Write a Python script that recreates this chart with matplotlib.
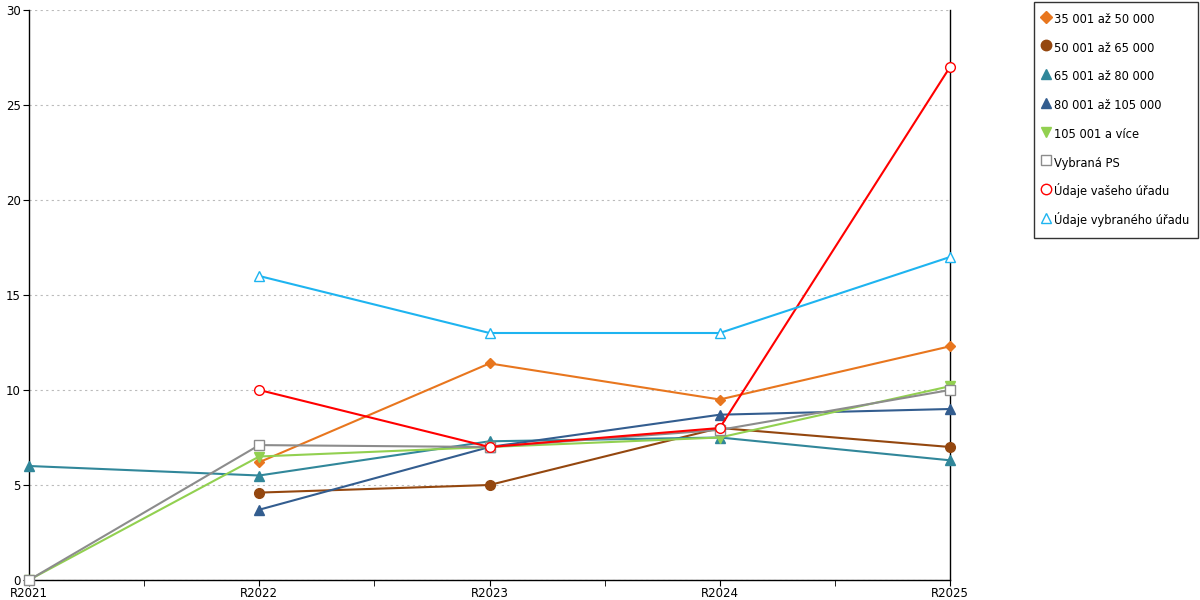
import matplotlib
matplotlib.use("Agg")
import matplotlib.pyplot as plt
from matplotlib.lines import Line2D
import numpy as np

years = ["R2021", "R2022", "R2023", "R2024", "R2025"]

s_35_50 = [None, 6.2, 11.4, 9.5, 12.3]
s_50_65 = [None, 4.6, 5.0, 8.0, 7.0]
s_65_80 = [6.0, 5.5, 7.3, 7.5, 6.3]
s_80_105 = [None, 3.7, 7.0, 8.7, 9.0]
s_105 = [0.0, 6.5, 7.0, 7.5, 10.2]
s_ps = [0.0, 7.1, 7.0, 7.9, 10.0]
s_vas = [None, 10.0, 7.0, 8.0, 27.0]
s_vybr = [None, 16.0, 13.0, 13.0, 17.0]

series = [
    ("35 001 až 50 000", s_35_50, "#E8761E", "D", True, 5.5),
    ("50 001 až 65 000", s_50_65, "#94470F", "o", True, 7),
    ("65 001 až 80 000", s_65_80, "#31879A", "^", True, 7),
    ("80 001 až 105 000", s_80_105, "#335D8F", "^", True, 7),
    ("105 001 a více", s_105, "#92D050", "v", True, 7),
    ("Vybraná PS", s_ps, "#8C8C8C", "s", False, 7),
    ("Údaje vašeho úřadu", s_vas, "#FF0000", "o", False, 7),
    ("Údaje vybraného úřadu", s_vybr, "#1EB4F0", "^", False, 7),
]

plt.rcParams["font.family"] = ["DejaVu Sans"]

fig = plt.figure(figsize=(12, 6), dpi=100)
ax = fig.add_axes([29 / 1200, 20 / 600, 921 / 1200, 570 / 600])

x = np.arange(len(years))
handles = []
for label, vals, color, marker, filled, ms in series:
    v = np.array([np.nan if a is None else a for a in vals], dtype=float)
    face = color if filled else "white"
    ax.plot(x, v, color=color, lw=1.5, marker=marker, markersize=ms,
            markerfacecolor=face, markeredgecolor=color, markeredgewidth=1.0,
            clip_on=False, zorder=3)
    handles.append(Line2D([], [], linestyle="none", marker=marker, markersize=ms + 0.5,
                          markerfacecolor=face, markeredgecolor=color,
                          markeredgewidth=1.0, label=label))

ax.set_xlim(0, len(years) - 1)
ax.set_ylim(0, 30)
ax.set_xticks(x)
ax.set_xticklabels(years, fontsize=8.5)
ax.set_xticks(x[:-1] + 0.5, minor=True)
ax.set_yticks(np.arange(0, 31, 5))
ax.tick_params(axis="y", labelsize=8.5, length=4, direction="out", pad=2)
ax.tick_params(axis="x", which="both", length=4, direction="out", pad=1)
ax.grid(axis="y", color="#BBBBBB", linestyle=(0, (2, 3)), lw=0.8)
ax.set_axisbelow(True)

ax.spines["top"].set_visible(False)
for side in ["left", "right", "bottom"]:
    ax.spines[side].set_color("black")
    ax.spines[side].set_linewidth(1.0)

leg = fig.legend(handles=handles, loc="upper left", bbox_to_anchor=(1034 / 1200, 1 - 2 / 600),
                 fontsize=8.3, frameon=True, fancybox=False, labelspacing=0.95,
                 handleheight=2.0, handlelength=0.6, handletextpad=0.45,
                 borderpad=0.72, borderaxespad=0)
leg.get_frame().set_edgecolor("black")
leg.get_frame().set_linewidth(1.0)

fig.savefig("out.png", dpi=100)
